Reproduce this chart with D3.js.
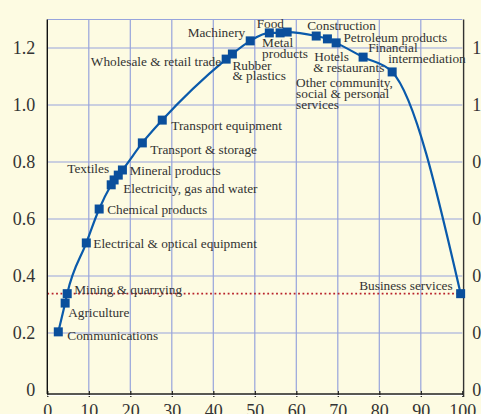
<!DOCTYPE html>
<html><head><meta charset="utf-8">
<script src="https://cdn.jsdelivr.net/npm/d3@7"></script>
<style>html,body{margin:0;padding:0;background:#fdfbe2;overflow:hidden}</style>
</head><body><svg id="c" width="481" height="414"></svg>
<script>
// ---- data ----
const sectors = ["Communications","Agriculture","Mining & quarrying","Electrical & optical equipment","Chemical products","Electricity, gas and water","Textiles","","Mineral products","Transport & storage","Transport equipment","Wholesale & retail trade","Rubber & plastics","Machinery","Food","Metal products","","Construction","Petroleum products","Hotels & restaurants","Other community, social & personal services","Financial intermediation","Business services"];
const cumShare = [2.65,4.3,4.8,9.4,12.5,15.4,16.1,17.1,18.1,22.9,27.7,43.1,44.6,48.9,53.5,56.1,57.8,64.8,67.5,69.6,76.1,83.1,99.6];
const ratio = [0.204,0.305,0.338,0.516,0.635,0.72,0.737,0.754,0.772,0.867,0.947,1.161,1.179,1.225,1.253,1.253,1.256,1.242,1.232,1.218,1.168,1.116,0.338];
const reference = 0.338;
const xTicks = [0,10,20,30,40,50,60,70,80,90,100];
const yTicks = [0,0.2,0.4,0.6,0.8,1.0,1.2];
const yTickLabels = ["0","0.2","0.4","0.6","0.8","1.0","1.2"];

// ---- label layout (pixel offsets from each marker) ----
const labelLayout = {
  "Communications": {lines:["Communications"], anchor:"start", dx:9, dy:8},
  "Agriculture": {lines:["Agriculture"], anchor:"start", dx:3, dy:14},
  "Mining & quarrying": {lines:["Mining & quarrying"], anchor:"start", dx:7, dy:0},
  "Electrical & optical equipment": {lines:["Electrical & optical equipment"], anchor:"start", dx:7, dy:5},
  "Chemical products": {lines:["Chemical products"], anchor:"start", dx:8, dy:5},
  "Electricity, gas and water": {lines:["Electricity, gas and water"], anchor:"start", dx:12, dy:8},
  "Textiles": {lines:["Textiles"], anchor:"end", dx:-5, dy:-7},
  "Mineral products": {lines:["Mineral products"], anchor:"start", dx:7, dy:5},
  "Transport & storage": {lines:["Transport & storage"], anchor:"start", dx:8, dy:11},
  "Transport equipment": {lines:["Transport equipment"], anchor:"start", dx:9, dy:10},
  "Wholesale & retail trade": {lines:["Wholesale & retail trade"], anchor:"end", dx:-5, dy:7},
  "Rubber & plastics": {lines:["Rubber","& plastics"], anchor:"start", dx:0, dy:16, gap:10},
  "Machinery": {lines:["Machinery"], anchor:"end", dx:-5, dy:-4},
  "Food": {lines:["Food"], anchor:"middle", dx:1, dy:-5},
  "Metal products": {lines:["Metal","products"], anchor:"start", dx:-18, dy:14, gap:11},
  "Construction": {lines:["Construction"], anchor:"start", dx:-9, dy:-6},
  "Petroleum products": {lines:["Petroleum products"], anchor:"start", dx:16, dy:3},
  "Hotels & restaurants": {lines:["Hotels","& restaurants"], anchor:"start", dx:-22, dy:18, gap:11, lineDx:[0,-1]},
  "Other community, social & personal services": {lines:["Other community,","social & personal","services"], anchor:"start", dx:-67, dy:30, gap:11},
  "Financial intermediation": {lines:["Financial","intermediation"], anchor:"start", dx:-24, dy:-20, gap:11, lineDx:[0,20]},
  "Business services": {lines:["Business services"], anchor:"end", dx:-8, dy:-4}
};

const svg = d3.select("#c");
const W = 481, H = 414;
svg.append("rect").attr("width",W).attr("height",H).attr("fill","#fdfbe2");

const pLeft = 47.3, pRight = 462.3, pTop = 19.5, pBottom = 390;
const x = d3.scaleLinear().domain([0,100]).range([pLeft,pRight]);
const y = d3.scaleLinear().domain([0,1.3]).range([pBottom,pTop]);

const gridColor = "#97a4dc";
const g = svg.append("g");
g.selectAll(".vg").data(xTicks.filter(d=>d>0 && d<100)).enter().append("line")
  .attr("x1",d=>x(d)).attr("x2",d=>x(d)).attr("y1",y(1.3)).attr("y2",y(0)+1)
  .attr("stroke",gridColor).attr("stroke-width",1.2);
g.selectAll(".hg").data(yTicks.filter(d=>d>0).concat([1.3])).enter().append("line")
  .attr("x1",pLeft).attr("x2",pRight).attr("y1",d=>y(d)).attr("y2",d=>y(d))
  .attr("stroke",gridColor).attr("stroke-width",1.2);

// reference dotted line
svg.append("line").attr("x1",pLeft).attr("x2",x(cumShare[cumShare.length-1]))
  .attr("y1",y(reference)).attr("y2",y(reference))
  .attr("stroke","#b8222a").attr("stroke-width",1.8).attr("stroke-dasharray","1.8,2.6");

// axes
const axisY = pBottom + 4;
const xAxis = d3.axisBottom(x).tickValues(xTicks).tickSize(6).tickSizeOuter(0).tickFormat(d3.format("d"));
const xg = svg.append("g").attr("transform",`translate(0,${axisY-3})`).call(xAxis);
xg.select(".domain").remove();
xg.selectAll(".tick line").attr("stroke","#222").attr("stroke-width",1.3);
xg.selectAll(".tick text").attr("font-family","Liberation Serif").attr("font-size",18)
  .attr("fill","#333").attr("y",26).attr("dy",null);
svg.append("line").attr("x1",pLeft).attr("x2",pRight+1).attr("y1",axisY).attr("y2",axisY)
  .attr("stroke","#222").attr("stroke-width",1.3);
svg.append("line").attr("x1",pLeft).attr("x2",pRight+1).attr("y1",axisY+1.5).attr("y2",axisY+1.5)
  .attr("stroke","#ffffff").attr("stroke-width",1);

svg.append("line").attr("x1",pLeft).attr("x2",pLeft).attr("y1",pTop).attr("y2",axisY)
  .attr("stroke","#111").attr("stroke-width",1.4);
svg.append("line").attr("x1",pRight+1.3).attr("x2",pRight+1.3).attr("y1",pTop).attr("y2",axisY+3)
  .attr("stroke","#333").attr("stroke-width",1.4);

const yAxisL = d3.axisLeft(y).tickValues(yTicks).tickSize(0).tickPadding(12)
  .tickFormat((d,i)=>yTickLabels[i]);
const ylg = svg.append("g").attr("transform",`translate(${pLeft},0)`).call(yAxisL);
ylg.select(".domain").remove();
ylg.selectAll(".tick text").attr("font-family","Liberation Serif").attr("font-size",18).attr("fill","#333");

const yAxisR = d3.axisRight(y).tickValues(yTicks).tickSize(0).tickPadding(9)
  .tickFormat((d,i)=>yTickLabels[i]);
const yrg = svg.append("g").attr("transform",`translate(${pRight+1},0)`).call(yAxisR);
yrg.select(".domain").remove();
yrg.selectAll(".tick text").attr("font-family","Liberation Serif").attr("font-size",18).attr("fill","#333");

// curve
const pts = cumShare.map((c,i)=>({x:c,y:ratio[i],name:sectors[i]}));
const line = d3.line().x(d=>x(d.x)).y(d=>y(d.y)).curve(d3.curveMonotoneX);
svg.append("path").datum(pts).attr("d",line).attr("fill","none")
  .attr("stroke","#0a5aab").attr("stroke-width",2.2);

const ms = 9;
svg.selectAll(".m").data(pts).enter().append("rect")
  .attr("x",d=>x(d.x)-ms/2).attr("y",d=>y(d.y)-ms/2).attr("width",ms).attr("height",ms)
  .attr("fill","#0a4f9c");

// labels
const lg = svg.append("g").attr("font-family","Liberation Serif").attr("font-size",13.3).attr("fill","#333");
pts.forEach(p=>{
  const L = labelLayout[p.name];
  if(!L) return;
  const t = lg.append("text").attr("text-anchor",L.anchor);
  L.lines.forEach((s,k)=>{
    t.append("tspan").attr("x",x(p.x)+L.dx+((L.lineDx||[])[k]||0))
      .attr("y",y(p.y)+L.dy+k*(L.gap||11)).text(s);
  });
});
</script></body></html>
